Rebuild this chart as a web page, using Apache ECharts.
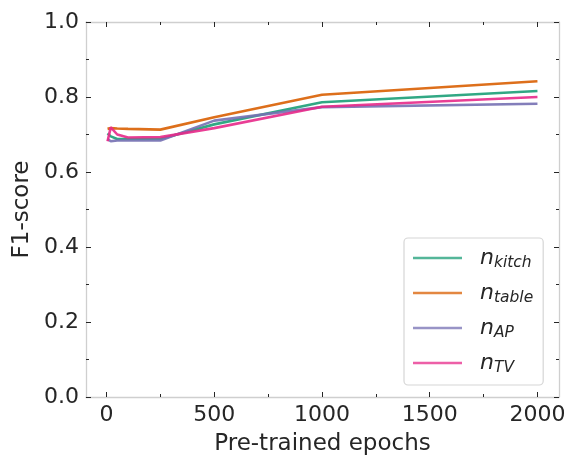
<!DOCTYPE html>
<html>
<head>
<meta charset="utf-8">
<script src="https://cdn.jsdelivr.net/npm/echarts@6/dist/echarts.min.js"></script>
<style>
  html, body { margin: 0; padding: 0; background: #ffffff; }
  #chart { width: 571px; height: 461px; }
</style>
</head>
<body>
<div id="chart"></div>
<script>
// Pre-training epochs at which each model was evaluated
const epochs = [5, 20, 50, 100, 250, 500, 1000, 2000];

// F1-score per node type
const kitch = [0.703, 0.695, 0.688, 0.688, 0.688, 0.727, 0.786, 0.816];
const table = [0.715, 0.717, 0.716, 0.715, 0.713, 0.746, 0.806, 0.842];
const ap    = [0.688, 0.682, 0.684, 0.684, 0.684, 0.737, 0.773, 0.782];
const tv    = [0.682, 0.719, 0.700, 0.692, 0.693, 0.717, 0.774, 0.800];

const seriesNames = ['kitch', 'table', 'AP', 'TV'];
const seriesValues = [kitch, table, ap, tv];
const colors = ['#1b9e77', '#d95f02', '#7570b3', '#e7298a'];

const xMajor = [0, 500, 1000, 1500, 2000];
const xMinor = [250, 750, 1250, 1750];
const yMajor = [0, 0.2, 0.4, 0.6, 0.8, 1.0];
const yMinor = [0.1, 0.3, 0.5, 0.7, 0.9];

const X_MIN = -95, X_MAX = 2100;
const FONT = 'DejaVu Sans';
const TXT = '#262626';
const SPINE = '#cfcfcf';

const rect = { left: 86, right: 12, top: 22, bottom: 64 };

function tickStyle(ticks, len) {
  return { show: true, inside: true, length: len, customValues: ticks,
           lineStyle: { color: TXT, width: 1 } };
}
function xAx(grid, pos, ticks, len, opts) {
  return Object.assign({
    type: 'value', gridIndex: grid, position: pos, min: X_MIN, max: X_MAX,
    axisLine: { show: false, onZero: false },
    splitLine: { show: false },
    axisTick: tickStyle(ticks, len),
    axisLabel: { show: false }
  }, opts || {});
}
function yAx(grid, pos, ticks, len, opts) {
  return Object.assign({
    type: 'value', gridIndex: grid, position: pos, min: 0, max: 1,
    axisLine: { show: false, onZero: false },
    splitLine: { show: false },
    axisTick: tickStyle(ticks, len),
    axisLabel: { show: false }
  }, opts || {});
}

const spine = { show: true, onZero: false, lineStyle: { color: SPINE, width: 1.3 } };

const option = {
  animation: false,
  backgroundColor: '#ffffff',
  grid: [
    Object.assign({ show: false }, rect),
    Object.assign({ show: false }, rect)
  ],
  xAxis: [
    xAx(0, 'bottom', xMajor, 5, {
      axisLine: spine,
      axisLabel: { show: true, customValues: xMajor, margin: 7,
                   color: TXT, fontFamily: FONT, fontSize: 22,
                   formatter: v => String(v) },
      name: 'Pre-trained epochs', nameLocation: 'middle', nameGap: 36,
      nameTextStyle: { color: TXT, fontFamily: FONT, fontSize: 23 }
    }),
    xAx(0, 'top', xMajor, 5, { axisLine: spine }),
    xAx(1, 'bottom', xMinor, 3),
    xAx(1, 'top', xMinor, 3)
  ],
  yAxis: [
    yAx(0, 'left', yMajor, 5, {
      axisLine: spine,
      axisLabel: { show: true, customValues: yMajor, margin: 7,
                   color: TXT, fontFamily: FONT, fontSize: 22,
                   formatter: v => v.toFixed(1) },
      name: 'F1-score', nameLocation: 'middle', nameGap: 50,
      nameTextStyle: { color: TXT, fontFamily: FONT, fontSize: 23 }
    }),
    yAx(0, 'right', yMajor, 5, { axisLine: spine }),
    yAx(1, 'left', yMinor, 3),
    yAx(1, 'right', yMinor, 3)
  ],
  legend: {
    left: 404, top: 238,
    orient: 'vertical',
    icon: 'rect',
    itemWidth: 49, itemHeight: 2.5,
    itemGap: 11,
    padding: [9, 10, 9, 9],
    backgroundColor: 'rgba(255,255,255,0.85)',
    borderColor: '#d6d6d6', borderWidth: 1.2, borderRadius: 4,
    itemStyle: { opacity: 0.75 },
    data: seriesNames,
    formatter: name => '{n|n}{s|' + name + '}',
    textStyle: {
      padding: [0, 0, 0, 13],
      rich: {
        n: { fontFamily: FONT, fontStyle: 'italic', fontSize: 22, color: TXT, lineHeight: 26 },
        s: { fontFamily: FONT, fontStyle: 'italic', fontSize: 15.5, color: TXT,
             padding: [10, 0, 0, 0] }
      }
    }
  },
  series: seriesNames.map((name, i) => ({
    name: name,
    type: 'line',
    xAxisIndex: 0, yAxisIndex: 0,
    data: epochs.map((e, j) => [e, seriesValues[i][j]]),
    showSymbol: false,
    symbol: 'none',
    color: colors[i],
    lineStyle: { width: 2.6, color: colors[i], opacity: 0.9 },
    itemStyle: { color: colors[i], opacity: 0.75 },
    z: 2 + i
  }))
};

const chart = echarts.init(document.getElementById('chart'), null, { renderer: 'canvas' });
chart.setOption(option);
</script>
</body>
</html>
